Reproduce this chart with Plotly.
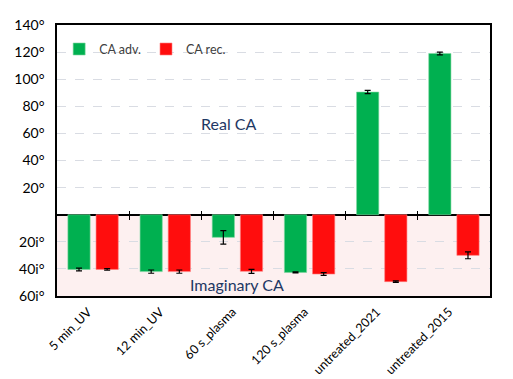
import plotly.graph_objects as go

categories = ["5 min_UV", "12 min_UV", "60 s_plasma", "120 s_plasma", "untreated_2021", "untreated_2015"]
ca_adv = [-40.4, -42.0, -16.7, -42.6, 90.5, 119.0]
ca_adv_err = [1.0, 1.2, 5.0, 0.4, 1.2, 1.0]
ca_rec = [-40.4, -42.0, -41.8, -43.8, -49.4, -30.0]
ca_rec_err = [0.6, 1.2, 1.5, 1.0, 0.5, 2.5]
ytick_vals = [-60, -40, -20, 20, 40, 60, 80, 100, 120, 140]
ytick_text = ["60i°", "40i°", "20i°", "20°", "40°", "60°", "80°", "100°", "120°", "140°"]

FONT = "Lato"
green = "#00B050"
red = "#FF0D0D"

fig = go.Figure()
fig.add_trace(go.Bar(
    x=categories, y=ca_adv, name="CA adv.",
    marker=dict(color=green, line=dict(color="#7ED6A0", width=0.6)),
    error_y=dict(type="data", array=ca_adv_err, color="black", thickness=1.2, width=3),
))
fig.add_trace(go.Bar(
    x=categories, y=ca_rec, name="CA rec.",
    marker=dict(color=red, line=dict(color="#FF8080", width=0.6)),
    error_y=dict(type="data", array=ca_rec_err, color="black", thickness=1.2, width=3),
))

# background of imaginary region
fig.add_shape(type="rect", xref="paper", x0=0, x1=1, yref="y", y0=-60, y1=0,
              fillcolor="#FDF0F0", line=dict(width=0), layer="below")

fig.update_layout(
    width=505, height=371,
    margin=dict(l=49, r=23, t=17, b=83),
    paper_bgcolor="white", plot_bgcolor="white",
    barmode="group", bargap=0.22, bargroupgap=0.21,
    font=dict(family=FONT, size=13, color="#000000"),
    showlegend=True,
    legend=dict(orientation="h", x=0.005, y=0.91, xanchor="left", yanchor="middle",
                bgcolor="rgba(0,0,0,0)", font=dict(family=FONT, size=12.5, color="#404040"),
                itemwidth=30, traceorder="normal"),
    xaxis=dict(
        type="category", showgrid=False, zeroline=False, automargin=False,
        showline=True, linecolor="black", linewidth=1.5, mirror=True,
        ticks="", ticklabelstandoff=2, ticklabelshift=-5,
        tickangle=-45, tickfont=dict(family=FONT, size=12.5, color="#000000"),
        range=[-0.5, 5.5],
    ),
    xaxis2=dict(
        overlaying="x", anchor="free", position=0.3, range=[-0.5, 5.5], automargin=False,
        tickvals=[0.5, 1.5, 2.5, 3.5, 4.5], showticklabels=False,
        ticks="outside", ticklen=4, tickcolor="black", tickwidth=1,
        showline=False, showgrid=False, zeroline=False,
    ),
    xaxis3=dict(
        overlaying="x", anchor="free", position=0.3, range=[-0.5, 5.5], automargin=False,
        tickvals=[0.5, 1.5, 2.5, 3.5, 4.5], showticklabels=False,
        ticks="inside", ticklen=4, tickcolor="black", tickwidth=1,
        showline=False, showgrid=False, zeroline=False,
    ),
    yaxis=dict(
        range=[-60, 140], tickvals=ytick_vals, ticktext=ytick_text, automargin=False,
        showgrid=True, gridcolor="#D9DCE3", griddash="dash", gridwidth=1,
        zeroline=True, zerolinecolor="black", zerolinewidth=1.5,
        showline=True, linecolor="black", linewidth=1.5, mirror=True,
        ticks="", ticklabelstandoff=8, tickfont=dict(family=FONT, size=14, color="#000000"),
    ),
)

# dummy invisible traces so overlay axes render
fig.add_trace(go.Scatter(x=[0], y=[0], xaxis="x2", mode="markers",
                         marker=dict(opacity=0), showlegend=False, hoverinfo="skip"))
fig.add_trace(go.Scatter(x=[0], y=[0], xaxis="x3", mode="markers",
                         marker=dict(opacity=0), showlegend=False, hoverinfo="skip"))

fig.add_annotation(text="Real CA", x=0.395, xref="paper", y=67, yref="y",
                   showarrow=False, font=dict(family=FONT, size=16, color="#1F3864"))
fig.add_annotation(text="Imaginary CA", x=0.415, xref="paper", y=-51.5, yref="y",
                   showarrow=False, font=dict(family=FONT, size=16, color="#1F3864"))

fig.write_html("out.html")
